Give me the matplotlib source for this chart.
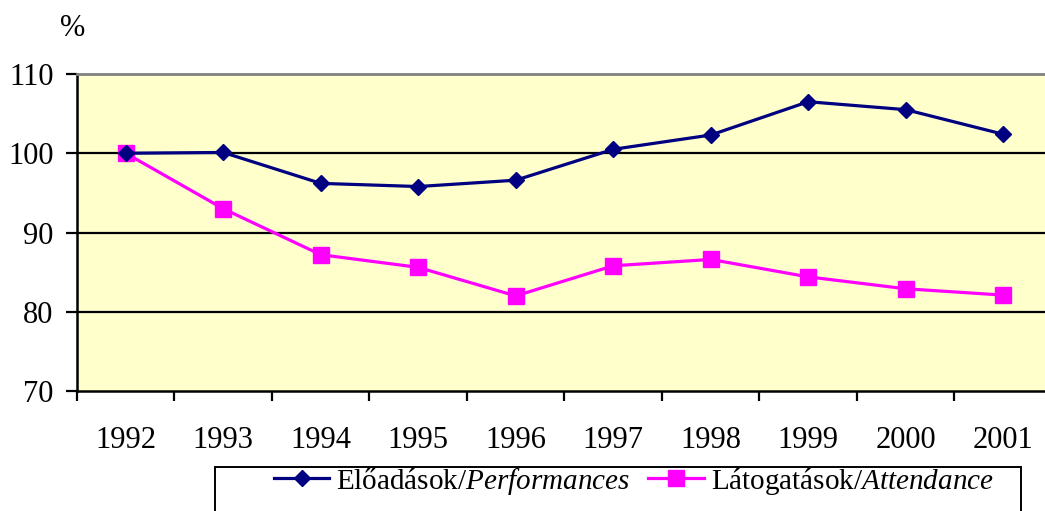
import matplotlib
matplotlib.use("Agg")
import matplotlib.pyplot as plt
from matplotlib.patches import Rectangle

years = ["1992", "1993", "1994", "1995", "1996", "1997", "1998", "1999", "2000", "2001"]
performances = [100.0, 100.1, 96.2, 95.8, 96.6, 100.5, 102.3, 106.5, 105.5, 102.4]
attendance = [100.0, 93.0, 87.2, 85.6, 82.0, 85.8, 86.6, 84.4, 82.9, 82.1]
yticks = [70, 80, 90, 100, 110]
label_perf = r"Előadások/$\mathit{Performances}$"
label_att = r"Látogatások/$\mathit{Attendance}$"

plt.rcParams['font.family'] = ['Liberation Serif', 'DejaVu Serif']
plt.rcParams['mathtext.fontset'] = 'custom'
plt.rcParams['mathtext.rm'] = 'Liberation Serif'
plt.rcParams['mathtext.it'] = 'Liberation Serif:italic'

W, H = 1045, 511
fig = plt.figure(figsize=(W / 100, H / 100), dpi=100)
ax = fig.add_axes([77 / W, (H - 391) / H, (1052 - 77) / W, (391 - 74) / H])
ax.set_facecolor('#FFFFCC')

x = list(range(len(years)))
ax.plot(x, performances, color='#000080', lw=2.3, marker='D', markersize=8.5,
        markerfacecolor='#000080', markeredgecolor='#000080', label=label_perf, zorder=4, clip_on=False)
ax.plot(x, attendance, color='#FF00FF', lw=2.3, marker='s', markersize=12,
        markerfacecolor='#FF00FF', markeredgecolor='#FF00FF', label=label_att, zorder=3, clip_on=False)

ax.set_xlim(-0.5, len(years) - 0.5)
ax.set_ylim(70, 110)
ax.set_yticks(yticks)
ax.set_yticklabels([str(v) for v in yticks], fontsize=22)
for v in yticks[1:-1]:
    ax.axhline(v, color='black', lw=1.6, zorder=1)

ax.set_xticks([i - 0.5 for i in range(len(years) + 1)])
ax.set_xticklabels([])
ax.set_xticks(x, minor=True)
ax.set_xticklabels(years, minor=True, fontsize=22)
ax.tick_params(axis='x', which='major', direction='out', length=7, width=1.6, color='black')
ax.tick_params(axis='x', which='minor', length=0, pad=25)
ax.tick_params(axis='y', direction='out', length=8, width=1.6, pad=9)

ax.spines['left'].set_linewidth(1.8)
ax.spines['bottom'].set_linewidth(1.8)
ax.spines['top'].set_color('#808080')
ax.spines['top'].set_linewidth(2.0)
ax.spines['right'].set_visible(False)

fig.text(73 / W, 1 - 28 / H, '%', fontsize=22, ha='center', va='center')

fig.patches.append(Rectangle((215 / W, -0.05), (1021 - 215) / W, 0.05 + (H - 467) / H,
                             transform=fig.transFigure, facecolor='white',
                             edgecolor='black', lw=1.4, zorder=0))
leg = fig.legend(loc='center left', bbox_to_anchor=(274 / W, 1 - 481 / H),
                 bbox_transform=fig.transFigure, ncol=2, frameon=False, fontsize=21,
                 handlelength=1.9, handletextpad=0.24, columnspacing=0.62, borderpad=0,
                 borderaxespad=0)

fig.savefig('out.png', dpi=100)
